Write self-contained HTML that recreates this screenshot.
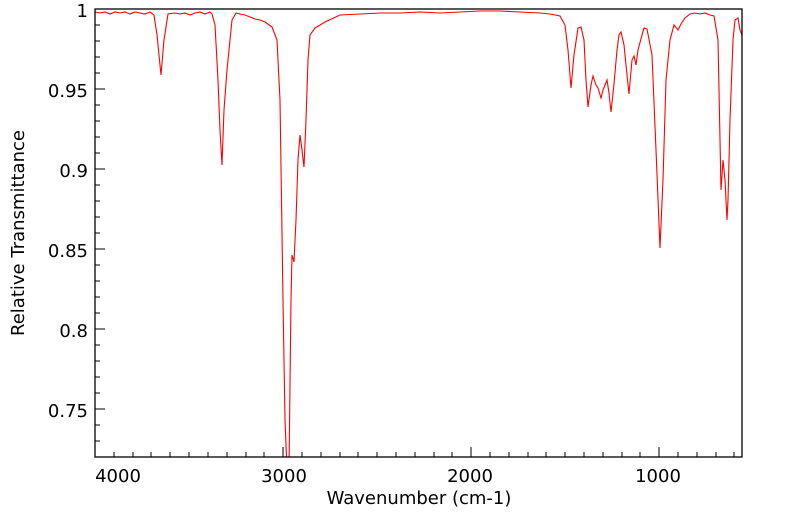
<!DOCTYPE html>
<html><head><style>body{margin:0;background:#fff}svg{display:block}</style></head><body>
<svg width="799" height="516" xmlns="http://www.w3.org/2000/svg" font-family="DejaVu Sans, Liberation Sans, sans-serif">
<defs><clipPath id="c"><rect x="95" y="9" width="647" height="448"/></clipPath></defs>
<rect width="799" height="516" fill="#fff"/>
<g clip-path="url(#c)">
<polyline fill="none" stroke="#ff0000" stroke-width="1.1" points="95,12 100,13 105,12 110,14 115,12 120,13 125,12 130,14 135,12 140,13 145,14 150,12 154,15 157,35 161,75 164,40 168,14 175,13 180,14 185,13 190,15 195,13 200,12 205,14 210,12 212,14 215,25 218,80 220,130 222,165 224,110 227,70 232,20 236,13 240,14 245,15 250,17 255,19 260,20 265,22 272,27 277,40 280,100 283,300 285,420 287,470 289,470 291,300 292,255 294,262 296,220 298,160 300,135 302,150 304,167 306,120 308,60 310,35 315,28 325,22 340,15 360,14 380,13 400,13 420,12 440,13 460,12 480,11 500,11 520,12 540,13 550,14 560,16 565,25 568,50 571,88 574,55 578,28 581,27 584,40 586,80 588,107 591,85 593,76 596,85 598,88 601,98 603,90 607,80 609,93 611,112 614,84 617,50 619,35 621,32 624,45 627,75 629,94 632,60 634,56 636,65 638,50 642,35 644,28 647,29 652,55 656,150 660,248 663,180 666,80 670,40 674,25 678,30 681,24 685,18 690,14 695,13 700,14 705,13 710,15 714,16 718,40 721,190 723,160 725,180 727,220 728,200 730,120 733,40 735,20 738,18 740,30 742,35"/>
</g>
<rect x="95" y="9" width="647" height="448" fill="none" stroke="#000" stroke-width="1.3"/>
<g stroke="#000" stroke-width="1">
<path d="M95,9h10M95,89h10M95,169h10M95,249h10M95,329h10M95,409h10"/>
<path d="M95,25h5M95,41h5M95,57h5M95,73h5M95,105h5M95,121h5M95,137h5M95,153h5M95,185h5M95,201h5M95,217h5M95,233h5M95,265h5M95,281h5M95,297h5M95,313h5M95,345h5M95,361h5M95,377h5M95,393h5M95,425h5M95,441h5"/>
<path d="M283,457v-10M471,457v-10M659,457v-10"/>
<path d="M114,457v-5M133,457v-5M151,457v-5M170,457v-5M189,457v-5M208,457v-5M227,457v-5M246,457v-5M264,457v-5M302,457v-5M321,457v-5M340,457v-5M358,457v-5M377,457v-5M396,457v-5M415,457v-5M434,457v-5M452,457v-5M490,457v-5M509,457v-5M528,457v-5M546,457v-5M565,457v-5M584,457v-5M603,457v-5M622,457v-5M640,457v-5M678,457v-5M697,457v-5M716,457v-5M734,457v-5"/>
</g>
<g font-size="18" fill="#000" text-anchor="end">
<text x="88" y="17">1</text><text x="88" y="97">0.95</text><text x="88" y="177">0.9</text><text x="88" y="257">0.85</text><text x="88" y="337">0.8</text><text x="88" y="417">0.75</text>
</g>
<g font-size="18" fill="#000" text-anchor="middle">
<text x="118" y="482">4000</text><text x="284" y="482">3000</text><text x="470" y="482">2000</text><text x="658" y="482">1000</text>
<text x="419" y="504">Wavenumber (cm-1)</text>
<text transform="translate(24,233) rotate(-90)">Relative Transmittance</text>
</g>
</svg>
</body></html>
